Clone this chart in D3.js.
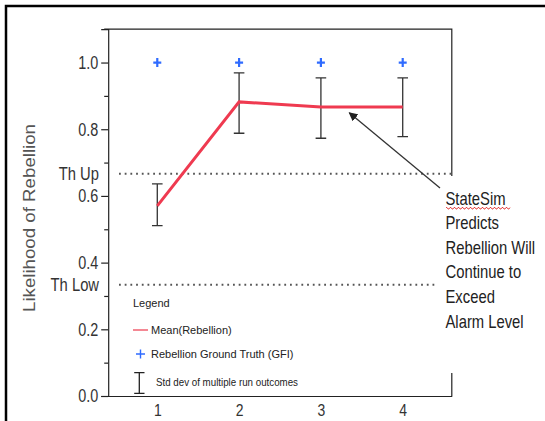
<!DOCTYPE html>
<html><head><meta charset="utf-8">
<script src="https://cdn.jsdelivr.net/npm/d3@7"></script>
<style>
html,body{margin:0;padding:0;background:#fff;}
svg{display:block;}
</style></head>
<body>
<script>
const categories = [1, 2, 3, 4];
const meanRebellion = [0.570, 0.882, 0.867, 0.867];
const stdUpper = [0.636, 0.969, 0.954, 0.954];
const stdLower = [0.511, 0.788, 0.773, 0.778];
const groundTruth = [1.0, 1.0, 1.0, 1.0];
const yTicks = [0, 0.2, 0.4, 0.6, 0.8, 1.0];
const yMinorTicks = [0.1, 0.3, 0.5, 0.7, 0.9];
const thresholds = [{label: "Th Up", value: 2/3}, {label: "Th Low", value: 1/3}];
const annotationLines = ["StateSim", "Predicts", "Rebellion Will", "Continue to", "Exceed", "Alarm Level"];

const W = 545, H = 421;
const sans = "'Liberation Sans',Arial,sans-serif";

// condense text horizontally (Arial-Narrow look)
function narrowText(sel, f) {
  sel.each(function() {
    const len = this.getComputedTextLength();
    d3.select(this).attr("textLength", len * f).attr("lengthAdjust", "spacingAndGlyphs");
  });
}

const svg = d3.select("body").append("svg").attr("width", W).attr("height", H);

// outer border (slide frame)
svg.append("path").attr("d", `M6,${H} L6,6 L${W},6`).attr("fill","none")
  .attr("stroke","#000").attr("stroke-width",2.5);

const x = d3.scaleLinear().domain([0.4, 4.6]).range([108.2, 451.8]);
const y = d3.scaleLinear().domain([0, 1.1]).range([396, 29.2]);

// frame
svg.append("path")
  .attr("d", `M${x(0.4)-4},${y(1.1)} L${x(4.6)},${y(1.1)} L${x(4.6)},${y(0)}`)
  .attr("fill","none").attr("stroke","#222").attr("stroke-width",1.2);

// y axis
const yAxis = svg.append("g").attr("transform", `translate(${x(0.4)},0)`)
  .call(d3.axisLeft(y).tickValues(yTicks).tickFormat(d3.format(".1f")).tickSize(7).tickPadding(3));
yAxis.select(".domain").attr("stroke","#222").attr("stroke-width",1.2);
yAxis.selectAll(".tick line").attr("stroke","#222").attr("stroke-width",1.2);
yAxis.selectAll(".tick text").attr("font-family", sans).attr("font-size", 18).attr("fill","#333")
  .call(narrowText, 0.8);
const yMinor = svg.append("g").attr("transform", `translate(${x(0.4)},0)`)
  .call(d3.axisLeft(y).tickValues(yMinorTicks).tickFormat("").tickSize(4));
yMinor.select(".domain").remove();
yMinor.selectAll(".tick line").attr("stroke","#222").attr("stroke-width",1.2);

// x axis
const xAxis = svg.append("g").attr("transform", `translate(0,${y(0)})`)
  .call(d3.axisBottom(x).tickValues(categories).tickFormat(d3.format("d")).tickSize(0).tickPadding(8));
xAxis.select(".domain").attr("stroke","#222").attr("stroke-width",1.2);
xAxis.selectAll(".tick text").attr("font-family", sans).attr("font-size", 17).attr("fill","#333")
  .call(narrowText, 0.82);

// thresholds
thresholds.forEach((t, i) => {
  svg.append("line").attr("x1", 119).attr("x2", x(4.6)).attr("y1", y(t.value)).attr("y2", y(t.value))
    .attr("stroke","#555").attr("stroke-width",2).attr("stroke-dasharray","1.8,3.9");
  svg.append("text").attr("x", 99).attr("y", y(t.value)).attr("dy","0.35em")
    .attr("text-anchor","end").attr("font-family", sans).attr("font-size",18).attr("fill","#333")
    .text(t.label).call(narrowText, 0.82);
});

// y axis title
svg.append("text").attr("transform", `translate(35,218) rotate(-90)`)
  .attr("text-anchor","middle").attr("font-family", sans).attr("font-size",16.5)
  .attr("fill","#555").attr("textLength",188).attr("lengthAdjust","spacingAndGlyphs")
  .text("Likelihood of Rebellion");

// error bars
const cap = 5.3;
const eb = svg.append("g").attr("stroke","#333").attr("stroke-width",1.3).attr("fill","none");
categories.forEach((c, i) => {
  const cx = x(c);
  eb.append("path").attr("d",
    `M${cx},${y(stdUpper[i])} L${cx},${y(stdLower[i])} M${cx-cap},${y(stdUpper[i])} L${cx+cap},${y(stdUpper[i])} M${cx-cap},${y(stdLower[i])} L${cx+cap},${y(stdLower[i])}`);
});

// mean line
svg.append("path").datum(categories.map((c,i)=>[c, meanRebellion[i]]))
  .attr("d", d3.line().x(d=>x(d[0])).y(d=>y(d[1])))
  .attr("fill","none").attr("stroke","#ef3a50").attr("stroke-width",3);

// ground truth plus markers
const gt = svg.append("g").attr("stroke","#2f6bff").attr("stroke-width",2.2);
categories.forEach((c,i)=>{
  const cx = x(c), cy = y(groundTruth[i]);
  gt.append("path").attr("d", `M${cx-4},${cy} L${cx+4},${cy} M${cx},${cy-4.5} L${cx},${cy+4.5}`);
});

// legend
const lg = svg.append("g");
lg.append("text").attr("x",133).attr("y",307).attr("font-family",sans).attr("font-size",11).attr("fill","#222").text("Legend");
lg.append("line").attr("x1",133).attr("x2",148).attr("y1",330).attr("y2",330).attr("stroke","#f06070").attr("stroke-width",1.5);
lg.append("text").attr("x",151).attr("y",334).attr("font-family",sans).attr("font-size",11).attr("fill","#222").text("Mean(Rebellion)");
lg.append("path").attr("d","M136,354 L145,354 M140.5,349.5 L140.5,358.5").attr("stroke","#2f6bff").attr("stroke-width",1.4);
lg.append("text").attr("x",151).attr("y",358).attr("font-family",sans).attr("font-size",11).attr("fill","#222").text("Rebellion Ground Truth (GFI)");
lg.append("path").attr("d","M139.3,372.7 L139.3,393.3 M134.2,372.7 L144.5,372.7 M134.2,393.3 L144.5,393.3")
  .attr("stroke","#222").attr("stroke-width",1.3).attr("fill","none");
lg.append("text").attr("x",156).attr("y",386).attr("font-family",sans).attr("font-size",10.5).attr("fill","#222")
  .attr("textLength",142).attr("lengthAdjust","spacingAndGlyphs").text("Std dev of multiple run outcomes");

// annotation text box (white fill covers frame)
svg.append("rect").attr("x",437).attr("y",176).attr("width",W-437).attr("height",197).attr("fill","#fff");
const baselines = [204.5, 229.2, 253.8, 278.4, 303, 327.6];
annotationLines.forEach((t,i)=>{
  svg.append("text").attr("transform", `translate(445.5,${baselines[i]}) scale(0.8,1)`)
    .attr("font-family",sans).attr("font-size",18.5).attr("fill","#222").text(t);
});
// spell-check wavy underline
let wave = "M446,207.5";
for (let xx = 446; xx < 510; xx += 2) wave += ` L${xx+1},${(xx/2)%2===0?209:207.5} L${xx+2},${(xx/2)%2===0?207.5:209}`;
svg.append("path").attr("d", wave).attr("fill","none").attr("stroke","#e02020").attr("stroke-width",0.8);

// arrow
svg.append("defs").append("marker").attr("id","ah").attr("viewBox","0 0 10 10")
  .attr("refX",9).attr("refY",5).attr("markerWidth",9).attr("markerHeight",9)
  .attr("markerUnits","userSpaceOnUse").attr("orient","auto")
  .append("path").attr("d","M0,0 L10,5 L0,10 Z").attr("fill","#222");
svg.append("line").attr("x1",440).attr("y1",188).attr("x2",349.3).attr("y2",112.7)
  .attr("stroke","#333").attr("stroke-width",1.3).attr("marker-end","url(#ah)");
</script>
</body></html>
